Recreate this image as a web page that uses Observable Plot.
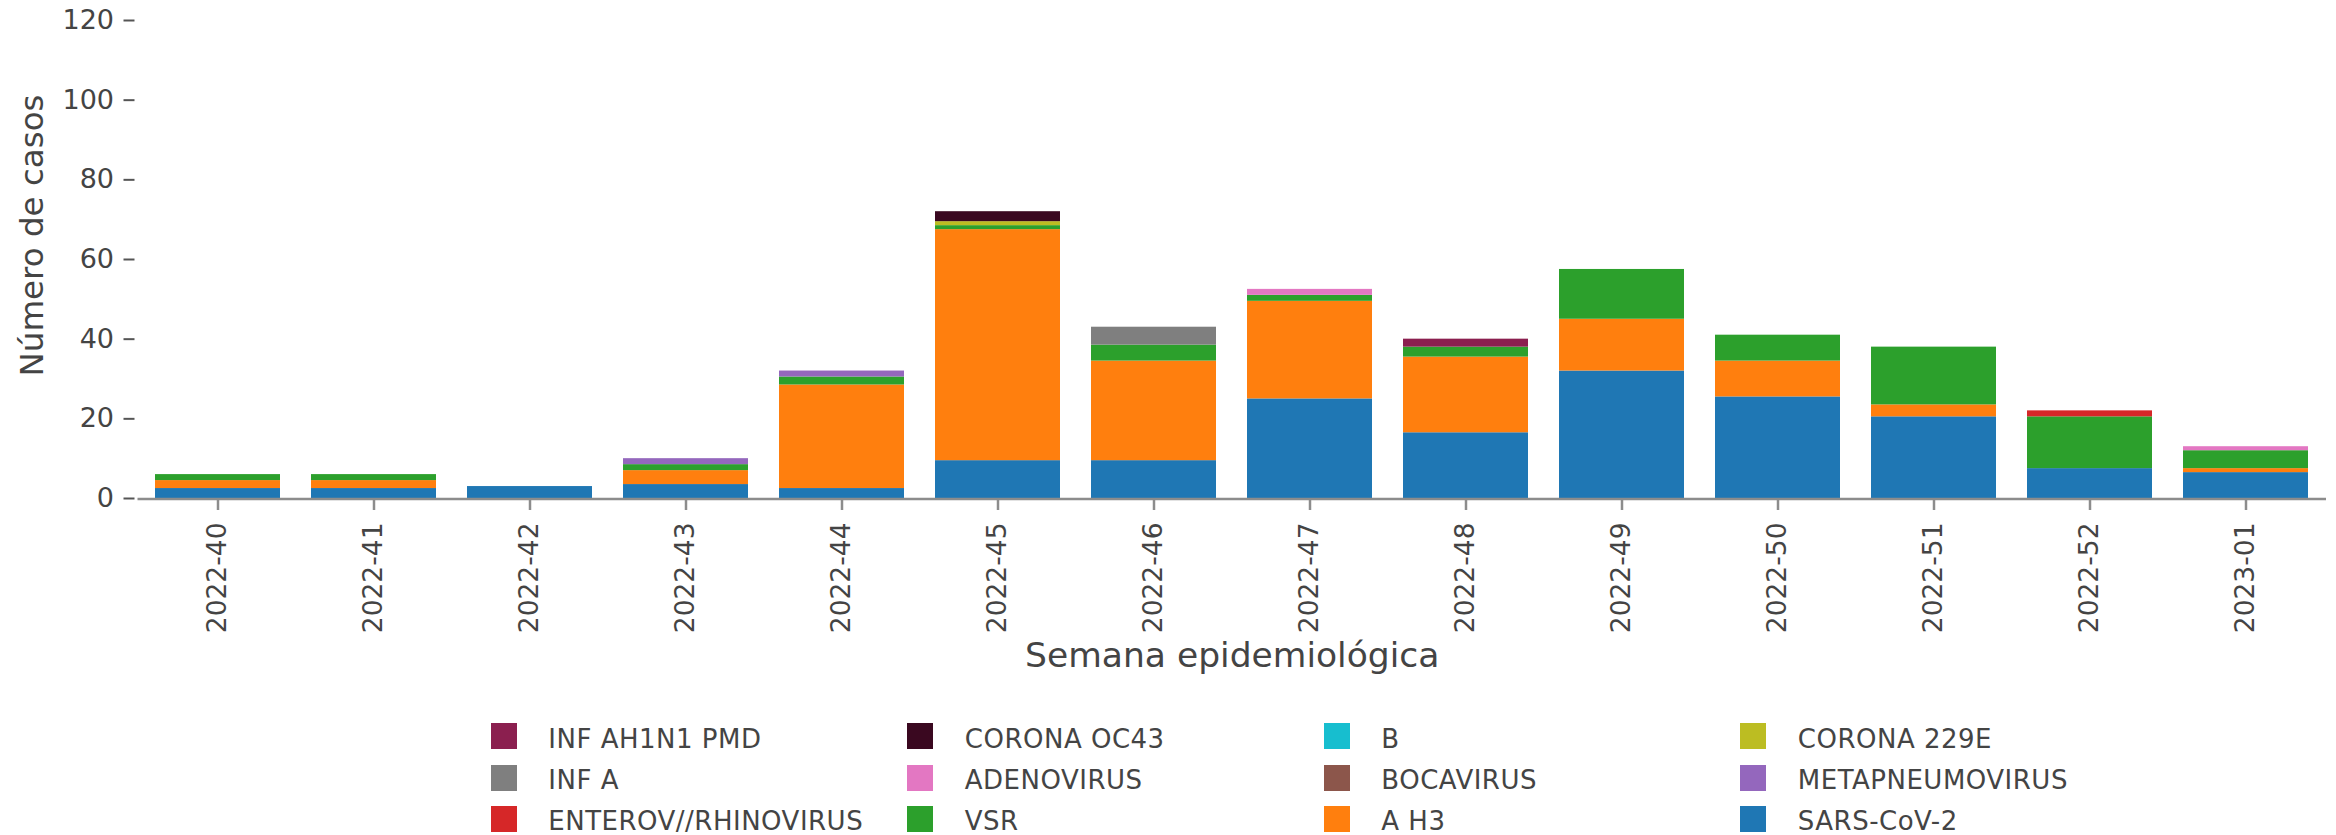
<!DOCTYPE html>
<html>
<head>
<meta charset="utf-8">
<script src="https://cdn.jsdelivr.net/npm/d3@7"></script>
<script src="https://cdn.jsdelivr.net/npm/@observablehq/plot@0.6"></script>
<style>
  body { margin: 0; background: #fff; }
  #chart svg { display: block; }
  #legend { position: relative; width: 2336px; height: 135px; font-family: "DejaVu Sans", Verdana, sans-serif; font-size: 26px; letter-spacing: 0.5px; color: #444; }
  .sw { position: absolute; width: 26px; height: 26px; }
  .lab { position: absolute; white-space: nowrap; line-height: 26px; }
</style>
</head>
<body>
<div id="chart"></div>
<div id="legend"></div>
<script>
// ---- Data ----
const weeks = ["2022-40", "2022-41", "2022-42", "2022-43", "2022-44", "2022-45", "2022-46",
               "2022-47", "2022-48", "2022-49", "2022-50", "2022-51", "2022-52", "2023-01"];

// stacking order (bottom to top)
const series = ["SARS-CoV-2", "A H3", "VSR", "ENTEROV//RHINOVIRUS", "METAPNEUMOVIRUS", "BOCAVIRUS",
                "ADENOVIRUS", "INF A", "CORONA 229E", "B", "CORONA OC43", "INF AH1N1 PMD"];
const colors = ["#1f77b4", "#ff7f0e", "#2ca02c", "#d62728", "#9467bd", "#8c564b",
                "#e377c2", "#7f7f7f", "#bcbd22", "#17becf", "#3a0820", "#8b1f4f"];

const sarsCov2   = [2.5, 2.5, 3, 3.5, 2.5, 9.5, 9.5, 25, 16.5, 32, 25.5, 20.5, 7.5, 6.5];
const aH3        = [2, 2, 0, 3.5, 26, 58, 25, 24.5, 19, 13, 9, 3, 0, 1];
const vsr        = [1.5, 1.5, 0, 1.5, 2, 1, 4, 1.5, 2.5, 12.5, 6.5, 14.5, 13, 4.5];
const enteroRhino= [0, 0, 0, 0, 0, 0, 0, 0, 0, 0, 0, 0, 1.5, 0];
const metapneumo = [0, 0, 0, 1.5, 1.5, 0, 0, 0, 0, 0, 0, 0, 0, 0];
const bocavirus  = [0, 0, 0, 0, 0, 0, 0, 0, 0, 0, 0, 0, 0, 0];
const adenovirus = [0, 0, 0, 0, 0, 0, 0, 1.5, 0, 0, 0, 0, 0, 1];
const infA       = [0, 0, 0, 0, 0, 0, 4.5, 0, 0, 0, 0, 0, 0, 0];
const corona229E = [0, 0, 0, 0, 0, 1, 0, 0, 0, 0, 0, 0, 0, 0];
const fluB       = [0, 0, 0, 0, 0, 0, 0, 0, 0, 0, 0, 0, 0, 0];
const coronaOC43 = [0, 0, 0, 0, 0, 2.5, 0, 0, 0, 0, 0, 0, 0, 0];
const infAH1N1   = [0, 0, 0, 0, 0, 0, 0, 0, 2, 0, 0, 0, 0, 0];

const yTicks = [0, 20, 40, 60, 80, 100, 120];
const xTitle = "Semana epidemiológica";
const yTitle = "Número de casos";

// legend layout order (row by row, 4 columns)
const legendOrder = ["INF AH1N1 PMD", "CORONA OC43", "B", "CORONA 229E",
                     "INF A", "ADENOVIRUS", "BOCAVIRUS", "METAPNEUMOVIRUS",
                     "ENTEROV//RHINOVIRUS", "VSR", "A H3", "SARS-CoV-2"];

// ---- Build table ----
const valuesBySeries = {
  "SARS-CoV-2": sarsCov2, "A H3": aH3, "VSR": vsr, "ENTEROV//RHINOVIRUS": enteroRhino,
  "METAPNEUMOVIRUS": metapneumo, "BOCAVIRUS": bocavirus, "ADENOVIRUS": adenovirus,
  "INF A": infA, "CORONA 229E": corona229E, "B": fluB, "CORONA OC43": coronaOC43,
  "INF AH1N1 PMD": infAH1N1
};
const table = series.flatMap(s => weeks.map((w, i) => ({week: w, virus: s, cases: valuesBySeries[s][i]})))
                    .filter(d => d.cases > 0);

const font = "DejaVu Sans";
const chart = Plot.plot({
  width: 2336,
  height: 700,
  marginLeft: 137.5,
  marginRight: 10,
  marginTop: 20,
  marginBottom: 202,
  style: {fontFamily: font, background: "#fff", color: "#444"},
  x: {domain: weeks, paddingInner: 0.2, paddingOuter: 0.1, label: null},
  y: {domain: [0, 120], label: null},
  color: {domain: series, range: colors},
  marks: [
    Plot.barY(table, {x: "week", y: "cases", fill: "virus", order: series}),
    Plot.ruleY([0], {stroke: "#8c8c8c", strokeWidth: 2.7, dy: 0.5}),
    Plot.axisY({ticks: yTicks, tickSize: 11, tickPadding: 10, dx: -3, fontSize: 27,
                fill: "#444", stroke: "#555", strokeWidth: 2, label: null, fontFamily: font}),
    Plot.axisX({tickRotate: -90, tickSize: 12, tickPadding: 12, fontSize: 26.5,
                fill: "#444", stroke: "#8c8c8c", strokeWidth: 2.5, label: null, fontFamily: font}),
    Plot.text([xTitle], {text: d => d, frameAnchor: "bottom", textAnchor: "middle", lineAnchor: "middle",
                         dy: 157.5, fontSize: 34.5, fill: "#444", fontFamily: font}),
    Plot.text([yTitle], {text: d => d, frameAnchor: "left", textAnchor: "middle", lineAnchor: "middle",
                         rotate: -90, dx: -105, dy: -24, fontSize: 32.5, fill: "#444", fontFamily: font})
  ]
});
document.getElementById("chart").append(chart);

// ---- Legend (HTML, below the SVG) ----
const legend = document.getElementById("legend");
legendOrder.forEach((name, i) => {
  const row = Math.floor(i / 4), col = i % 4;
  const left = 490.7 + col * 416.5;
  const top = 23.3 + row * 41.2;
  const sw = document.createElement("div");
  sw.className = "sw";
  sw.style.left = left + "px";
  sw.style.top = top + "px";
  sw.style.background = colors[series.indexOf(name)];
  legend.append(sw);
  const lab = document.createElement("span");
  lab.className = "lab";
  lab.style.left = (left + 57.6) + "px";
  lab.style.top = (top + 2.4) + "px";
  lab.textContent = name;
  legend.append(lab);
});
</script>
</body>
</html>
